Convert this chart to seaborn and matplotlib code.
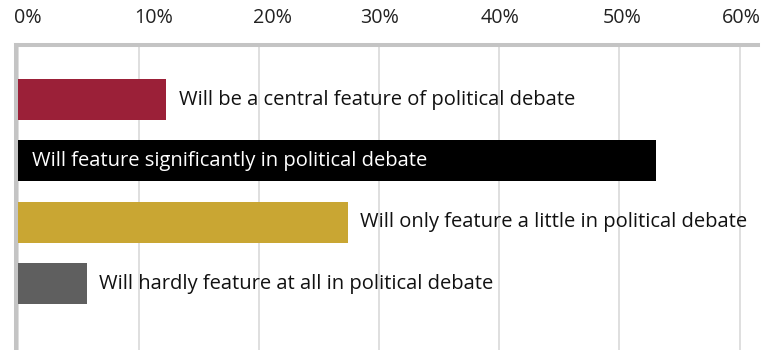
import matplotlib
matplotlib.use("Agg")
import matplotlib.pyplot as plt
import matplotlib.transforms as mtransforms
import seaborn as sns
import pandas as pd

categories = [
    "Will be a central feature of political debate",
    "Will feature significantly in political debate",
    "Will only feature a little in political debate",
    "Will hardly feature at all in political debate",
]
values = [12.3, 53.0, 27.4, 5.7]
colors = ["#9b2038", "#000000", "#c9a633", "#5f5f5f"]
label_inside = [False, True, False, False]
tick_values = [0, 10, 20, 30, 40, 50, 60]
tick_labels = ["0%", "10%", "20%", "30%", "40%", "50%", "60%"]
tick_shift_px = [9.5, 15, 13.7, 0.8, 1, 2.4, 1.7]

sns.set_theme(style="white")
plt.rcParams["font.family"] = ["Open Sans", "DejaVu Sans"]

df = pd.DataFrame({"cat": categories, "val": values})

fig = plt.figure(figsize=(7.7, 3.5), dpi=100)
ax = fig.add_axes([16 / 770, 0, (757.7 - 16) / 770, 1 - 45.3 / 350])

sns.barplot(data=df, y="cat", x="val", hue="cat", palette=colors,
            order=categories, hue_order=categories, width=0.668,
            legend=False, ax=ax, saturation=1, linewidth=0, zorder=3)

ax.set_xlim(-0.19, 61.5)
ax.set_ylim(4.084, -0.884)
ax.set_xlabel("")
ax.set_ylabel("")
ax.set_yticks([])

ax.xaxis.tick_top()
ax.set_xticks(tick_values)
ax.set_xticklabels(tick_labels, fontsize=14.2, color="#222222")
ax.tick_params(axis="x", length=0, pad=12.5)
for lab, sh in zip(ax.get_xticklabels(), tick_shift_px):
    lab.set_transform(lab.get_transform() + mtransforms.ScaledTranslation(sh / 100, 0, fig.dpi_scale_trans))

ax.grid(axis="x", color="#d6d6d6", linewidth=1.1, zorder=0)
ax.set_axisbelow(True)

for side in ["right", "bottom"]:
    ax.spines[side].set_visible(False)
for side in ["top", "left"]:
    ax.spines[side].set_visible(True)
    ax.spines[side].set_color("#c4c4c4")
    ax.spines[side].set_linewidth(2.9)

for i, (cat, v, inside) in enumerate(zip(categories, values, label_inside)):
    if inside:
        ax.annotate(cat, xy=(0, i), xytext=(10, 0), textcoords="offset points",
                    va="center", ha="left", color="white", fontsize=14.5, zorder=5)
    else:
        ax.annotate(cat, xy=(v, i), xytext=(9, 0), textcoords="offset points",
                    va="center", ha="left", color="#111111", fontsize=14.5, zorder=5)

fig.savefig("out.png", dpi=100)
